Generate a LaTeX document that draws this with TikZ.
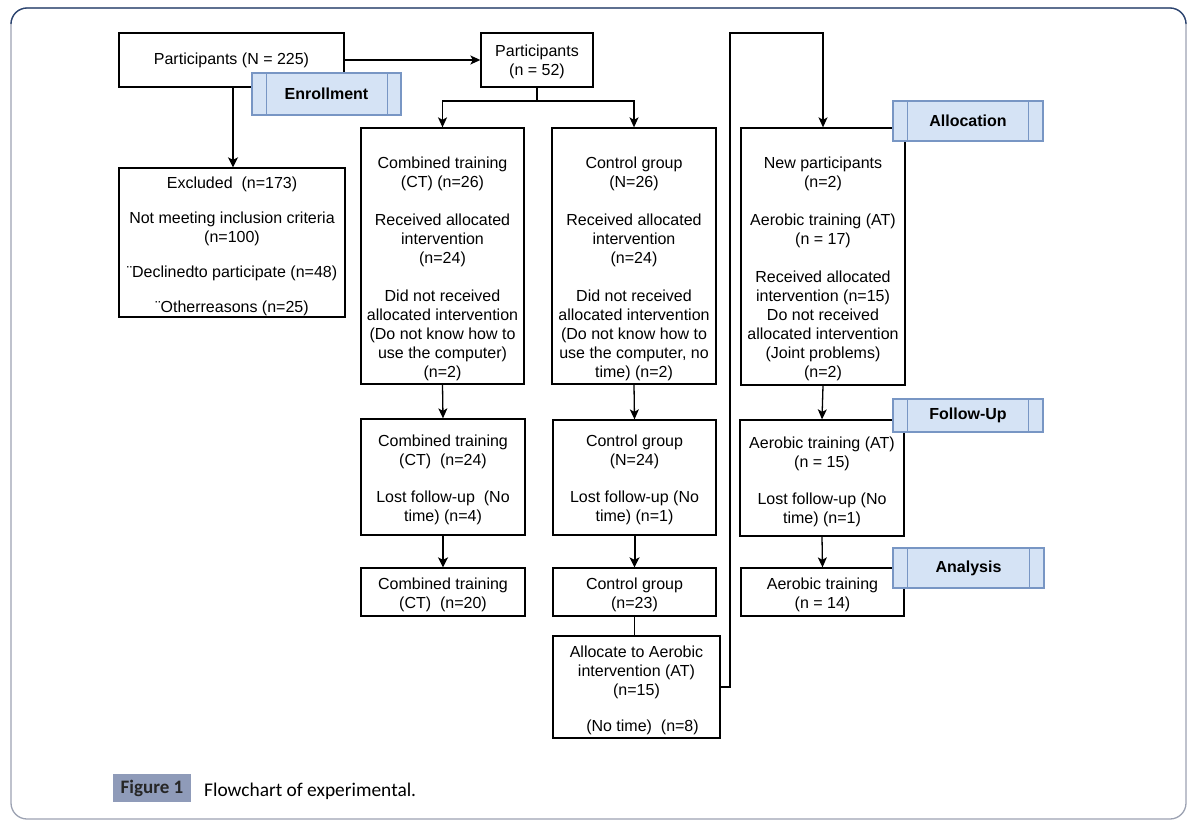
\documentclass[tikz,border=0pt]{standalone}
\usepackage{fontspec}
\setmainfont{Liberation Sans}
\newfontfamily\capfont{Carlito}
\usetikzlibrary{arrows.meta}
\definecolor{lblfill}{HTML}{D5E3F5}
\definecolor{lbldraw}{HTML}{7896C4}
\definecolor{framegray}{HTML}{9CA2B2}
\definecolor{framenavy}{HTML}{2B4470}
\definecolor{figfill}{HTML}{8F9BB9}
\newcommand\boxtext[1]{\begin{tabular}[t]{@{}c@{}}#1\end{tabular}}
\begin{document}
\begin{tikzpicture}[x=1pt,y=-1pt,
  box/.style={draw=black, line width=1.3pt, inner sep=0pt, fill=white},
  txt/.style={anchor=base, inner sep=0pt, font=\fontsize{16}{19}\selectfont},
  lbl/.style={draw=lbldraw, fill=lblfill, line width=1.2pt, inner sep=0pt, font=\fontsize{16}{19}\selectfont\bfseries},
  lblline/.style={draw=lbldraw, line width=1.2pt},
  arr/.style={line width=1.3pt, -{Stealth[length=10pt,width=9pt,inset=2.5pt]}},
  thickarr/.style={line width=2pt, -{Stealth[length=10pt,width=10pt,inset=2.5pt]}},
  conn/.style={line width=1.3pt}]
\useasboundingbox (0,0) rectangle (1193,832);
% frame
\draw[framegray, line width=1.3pt, rounded corners=16pt] (11,8) rectangle (1186,819);
\draw[framenavy, line width=1.3pt] (11,24) arc[start angle=180, end angle=270, radius=16] -- (1170,8) arc[start angle=270, end angle=360, radius=16];

% boxes
\node[box, minimum width=225pt, minimum height=54pt] (p225) at (231.5,60) {};
\node[box, minimum width=226pt, minimum height=149pt] (excl) at (232,242.5) {};
\node[box, minimum width=112pt, minimum height=54pt] (p52) at (537,60) {};
\node[box, minimum width=163pt, minimum height=256pt] (ct1) at (442.5,256) {};
\node[box, minimum width=164pt, minimum height=256pt] (cg1) at (634,256) {};
\node[box, minimum width=164pt, minimum height=257pt] (at1) at (823,256.5) {};
\node[box, minimum width=164pt, minimum height=116pt] (ct2) at (443,477) {};
\node[box, minimum width=163pt, minimum height=115pt] (cg2) at (634.5,477.5) {};
\node[box, minimum width=164pt, minimum height=116pt] (at2) at (822,478) {};
\node[box, minimum width=164pt, minimum height=48pt] (ct3) at (443,592) {};
\node[box, minimum width=163pt, minimum height=48pt] (cg3) at (634.5,592) {};
\node[box, minimum width=163pt, minimum height=48pt] (at3) at (822.5,592) {};
\node[box, minimum width=167pt, minimum height=102pt] (alloc) at (636.5,687) {};

% texts
\node[txt] (p225t) at (231.5,65) {Participants (N = 225)};
\node[txt] (exclt) at (232,188) {\boxtext{Excluded\ \ (n=173)\\[16pt]Not meeting inclusion criteria\\(n=100)\\[16pt]¨Declinedto participate (n=48)\\[16pt]¨Otherreasons (n=25)}};
\node[txt] (p52t) at (537,56.5) {\boxtext{Participants\\(n = 52)}};
\node[txt] (ct1t) at (442.5,168) {\boxtext{Combined training\\(CT) (n=26)\\[19pt]Received allocated\\intervention\\(n=24)\\[19pt]Did not received\\allocated intervention\\(Do not know how to\\use the computer)\\(n=2)}};
\node[txt] (cg1t) at (634,168) {\boxtext{Control group\\(N=26)\\[19pt]Received allocated\\intervention\\(n=24)\\[19pt]Did not received\\allocated intervention\\(Do not know how to\\use the computer, no\\time) (n=2)}};
\node[txt] (at1t) at (823,168) {\boxtext{New participants\\(n=2)\\[19pt]Aerobic training (AT)\\(n = 17)\\[19pt]Received allocated\\intervention (n=15)\\Do not received\\allocated intervention\\(Joint problems)\\(n=2)}};
\node[txt] (ct2t) at (443,446.5) {\boxtext{Combined training\\(CT)\ \ (n=24)\\[18pt]Lost follow-up\ \ (No\\time) (n=4)}};
\node[txt] (cg2t) at (634.5,446.5) {\boxtext{Control group\\(N=24)\\[18pt]Lost follow-up (No\\time) (n=1)}};
\node[txt] (at2t) at (822,448) {\boxtext{Aerobic training (AT)\\(n = 15)\\[18pt]Lost follow-up (No\\time) (n=1)}};
\node[txt] (ct3t) at (443,589.5) {\boxtext{Combined training\\(CT)\ \ (n=20)}};
\node[txt] (cg3t) at (634.5,589.5) {\boxtext{Control group\\(n=23)}};
\node[txt] (at3t) at (822.5,589.5) {\boxtext{Aerobic training\\(n = 14)}};
\node[txt] (alloct) at (636.5,657.5) {\boxtext{Allocate to Aerobic\\intervention (AT)\\(n=15)\\[17pt]\hspace{12pt}(No time)\ \ (n=8)}};

% connectors
\draw[thickarr] (p225.south -| 233,0) -- (excl.north -| 233,0);
\draw[arr] (p225.east) -- (p52.west);
\coordinate (split) at (537,101);
\draw[arr] (p52.south) -- (split) -| (ct1.north);
\draw[arr] (split) -| (cg1.north);
\draw[arr] (ct1.south) -- (ct2.north);
\draw[arr] (cg1.south) -- (cg2.north);
\draw[thickarr] (ct2.south) -- (ct3.north);
\draw[thickarr] (cg2.south) -- (cg3.north);
\draw[conn] (cg3.south) -- (cg3.south |- alloc.north);
\coordinate (turn) at (730,33);
\draw[arr] (alloc.east) -| (turn) -| (at1.north);
\draw[arr] (at1.south) -- (at2.north);
\draw[arr] (at2.south) -- (at3.north);

% phase labels
\node[lbl, minimum width=149pt, minimum height=42pt] (enroll) at (326.5,94) {Enrollment};
\draw[lblline] ([xshift=15pt]enroll.north west) -- ([xshift=15pt]enroll.south west);
\draw[lblline] ([xshift=-14pt]enroll.north east) -- ([xshift=-14pt]enroll.south east);
\node[lbl, minimum width=150pt, minimum height=40pt] (allocl) at (968,121) {Allocation};
\draw[lblline] ([xshift=15pt]allocl.north west) -- ([xshift=15pt]allocl.south west);
\draw[lblline] ([xshift=-15pt]allocl.north east) -- ([xshift=-15pt]allocl.south east);
\node[lbl, minimum width=150pt, minimum height=33pt] (follow) at (968,415.5) {Follow-Up};
\draw[lblline] ([xshift=15pt]follow.north west) -- ([xshift=15pt]follow.south west);
\draw[lblline] ([xshift=-15pt]follow.north east) -- ([xshift=-15pt]follow.south east);
\node[lbl, minimum width=151pt, minimum height=40pt] (analysis) at (968.5,568) {Analysis};
\draw[lblline] ([xshift=15pt]analysis.north west) -- ([xshift=15pt]analysis.south west);
\draw[lblline] ([xshift=-15pt]analysis.north east) -- ([xshift=-15pt]analysis.south east);

% caption
\node[fill=figfill, minimum width=78pt, minimum height=28pt, inner sep=0pt, font=\capfont\fontsize{19}{20}\selectfont\bfseries, text=black!85] (figlbl) at (152,788) {Figure 1};
\node[anchor=base west, inner sep=0pt, font=\capfont\fontsize{19.4}{21}\selectfont] (figcap) at (204,796) {Flowchart of experimental.};
\end{tikzpicture}
\end{document}
